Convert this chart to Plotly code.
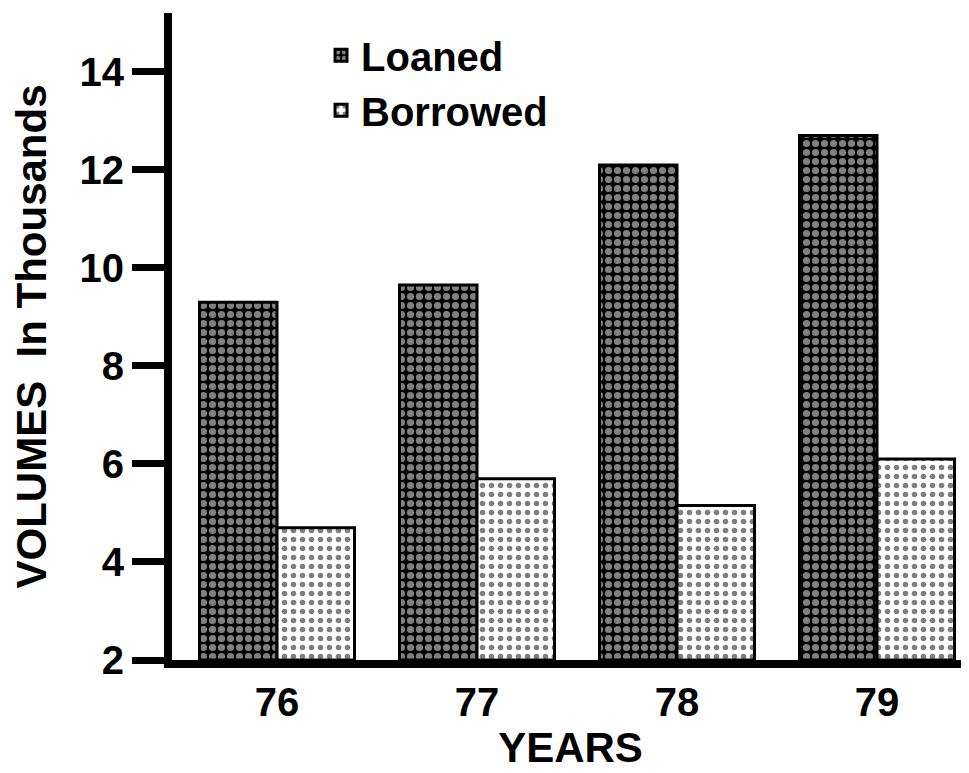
import plotly.graph_objects as go

years = ["76", "77", "78", "79"]
loaned = [9.3, 9.65, 12.1, 12.7]
borrowed = [4.7, 5.7, 5.15, 6.1]
y_ticks = [2, 4, 6, 8, 10, 12, 14]

font_family = "Liberation Sans, Arial, sans-serif"

fig = go.Figure()
fig.add_trace(
    go.Bar(
        x=years,
        y=[v - 2 for v in loaned],
        base=2,
        name="Loaned",
        legendgroup="loaned",
        marker=dict(
            color="black",
            line=dict(color="black", width=3),
            pattern=dict(shape=".", fgcolor="white", bgcolor="black", size=9, solidity=0.5),
        ),
    )
)
fig.add_trace(
    go.Bar(
        x=years,
        y=[v - 2 for v in borrowed],
        base=2,
        name="Borrowed",
        legendgroup="borrowed",
        marker=dict(
            color="white",
            line=dict(color="black", width=3),
            pattern=dict(shape=".", fgcolor="black", bgcolor="white", size=9, solidity=0.3),
        ),
    )
)

# page has an 8px body margin, so the figure is a little smaller than the window
fig.update_layout(
    width=961,
    height=765,
    margin=dict(l=164, r=0, t=5, b=113),
    paper_bgcolor="white",
    plot_bgcolor="white",
    barmode="group",
    bargap=0.225,
    bargroupgap=0,
    font=dict(family=font_family, color="black", size=40, weight="bold"),
    legend=dict(
        x=0.187,
        y=0.985,
        xanchor="left",
        yanchor="top",
        bgcolor="rgba(0,0,0,0)",
        font=dict(size=40, weight="bold"),
        tracegroupgap=0,
    ),
)
fig.update_xaxes(
    range=[-0.525, 3.46],
    showline=True,
    linecolor="black",
    linewidth=8,
    ticks="",
    showgrid=False,
    ticklabelstandoff=0,
    tickfont=dict(size=40, weight="bold"),
    title=dict(text="YEARS", font=dict(size=42, weight="bold"), standoff=2),
)
fig.update_yaxes(
    range=[2, 15.2],
    tickvals=y_ticks,
    showline=True,
    linecolor="black",
    linewidth=8,
    ticks="outside",
    ticklen=32,
    tickwidth=7,
    tickcolor="black",
    showgrid=False,
    zeroline=False,
    tickfont=dict(size=40, weight="bold"),
    title=dict(text="VOLUMES  In Thousands", font=dict(size=42, weight="bold"), standoff=32),
)

fig.write_html("out.html")
